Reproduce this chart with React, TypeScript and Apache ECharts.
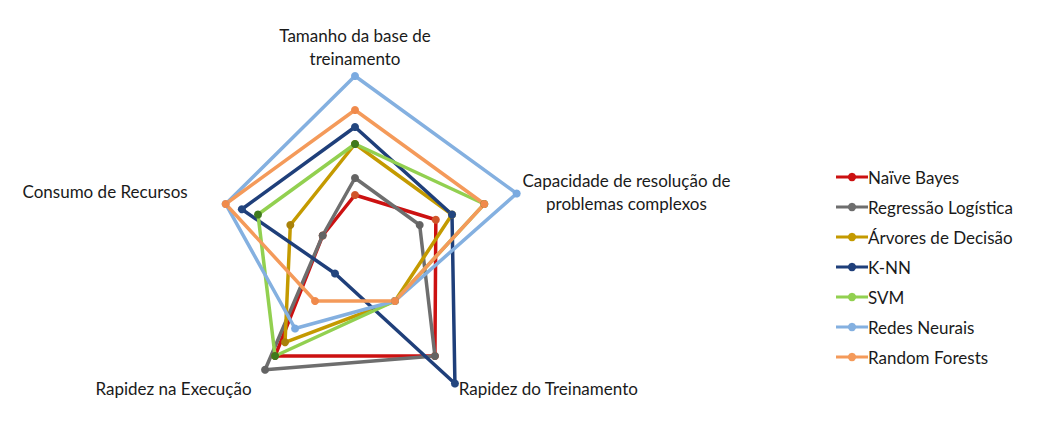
import React, { useEffect, useRef } from "react";
import * as echarts from "echarts";

// Indicators in ECharts order (counter-clockwise starting at the top)
const indicators = [
  "Tamanho da base de\ntreinamento",
  "Consumo de Recursos",
  "Rapidez na Execução",
  "Rapidez do Treinamento",
  "Capacidade de resolução de\nproblemas complexos",
];
const seriesNames = [
  "Naïve Bayes",
  "Regressão Logística",
  "Árvores de Decisão",
  "K-NN",
  "SVM",
  "Redes Neurais",
  "Random Forests",
];
const naiveBayes = [3, 2, 8, 8, 5];
const regressaoLogistica = [4, 2, 9, 8, 4];
const arvoresDecisao = [6, 4, 7, 4, 6];
const knn = [7, 7, 2, 10, 6];
const svm = [6, 6, 8, 4, 8];
const redesNeurais = [10, 8, 6, 4, 10];
const randomForests = [8, 8, 4, 4, 8];
const axisMax = 10;

const seriesValues = [naiveBayes, regressaoLogistica, arvoresDecisao, knn, svm, redesNeurais, randomForests];
const lineColors = ["#CC1111", "#6E6E6E", "#C49A00", "#1F3F7A", "#92D050", "#84B0E0", "#F49A5A"];
const markerColors = ["#D0552A", "#636363", "#A9820A", "#23467F", "#3F7A1C", "#7AAAE0", "#F08A4B"];

const FONT = "Lato";
const TEXT_COLOR = "#1a1a1a";
const legendIcon =
  "path://M0,3.5 L11.29,3.5 A4,4 0 0 1 18.71,3.5 L30,3.5 L30,6.5 L18.71,6.5 A4,4 0 0 1 11.29,6.5 L0,6.5 Z";

export default function App() {
  const ref = useRef<HTMLDivElement>(null);
  useEffect(() => {
    if (!ref.current) return;
    const chart = echarts.init(ref.current, undefined, { renderer: "svg" });
    chart.setOption({
      animation: false,
      backgroundColor: "#ffffff",
      legend: {
        orient: "vertical",
        left: 831,
        top: 157,
        itemWidth: 32,
        itemHeight: 10,
        itemGap: 0,
        icon: legendIcon,
        textStyle: { fontFamily: FONT, fontSize: 17, color: TEXT_COLOR, lineHeight: 30, padding: [0, 0, 0, -5] },
        data: seriesNames.map((n, i) => ({ name: n, itemStyle: { color: lineColors[i] } })),
      },
      radar: {
        center: [355, 246],
        radius: 170,
        startAngle: 90,
        shape: "polygon",
        nameGap: 6,
        indicator: indicators.map((name) => ({ name, min: 0, max: axisMax })),
        axisName: {
          formatter: (v: string) => v.split("\n").map((s) => `{c|${s}}`).join("\n"),
          rich: {
            c: { align: "center", fontFamily: FONT, fontSize: 17, lineHeight: 23, color: TEXT_COLOR },
          },
        },
        axisLine: { show: false },
        splitLine: { show: false },
        splitArea: { show: false },
        axisTick: { show: false },
        axisLabel: { show: false },
      },
      series: seriesNames.map((name, i) => ({
        type: "radar",
        name,
        symbol: "circle",
        symbolSize: 8,
        lineStyle: { color: lineColors[i], width: 3.5 },
        itemStyle: { color: markerColors[i] },
        data: [{ name, value: seriesValues[i] }],
      })),
    });
    return () => chart.dispose();
  }, []);
  return (
    <div
      ref={ref}
      style={{ position: "fixed", left: 0, top: 0, width: 1038, height: 429, background: "#fff" }}
    />
  );
}
